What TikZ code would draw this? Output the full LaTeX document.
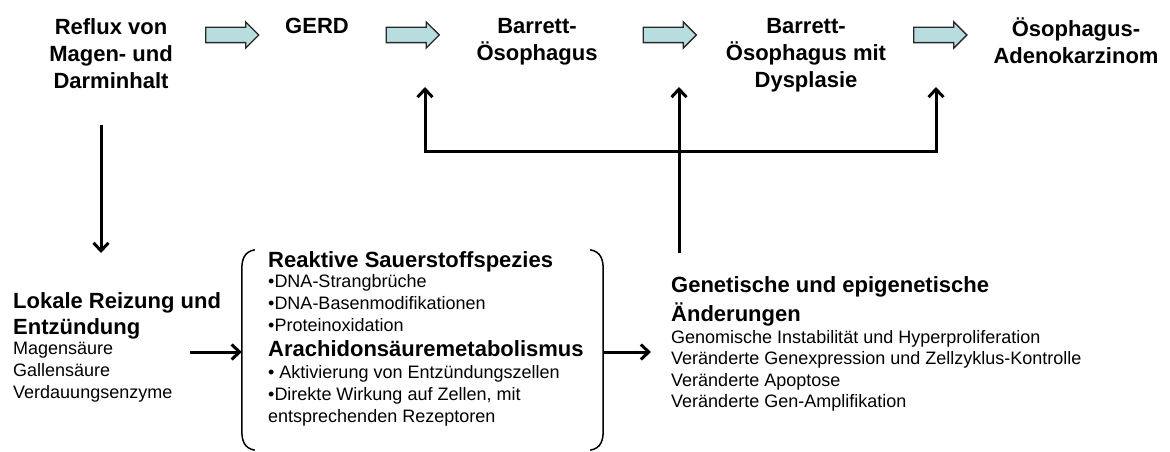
\documentclass[tikz,border=0pt]{standalone}
\usepackage{fontspec}
\setmainfont{Liberation Sans}
\usetikzlibrary{shapes.arrows,arrows.meta}
\definecolor{arrowfill}{RGB}{183,221,222}
\definecolor{arrowedge}{RGB}{40,40,40}
\tikzset{
  x=1pt,y=-1pt,
  toplabel/.style={align=center,anchor=north,inner sep=0pt,
    font=\fontsize{22}{27}\selectfont\bfseries},
  blockarrow/.style={single arrow,draw=arrowedge,fill=arrowfill,line width=1.3pt,
    minimum height=53pt,inner xsep=0pt,inner ysep=7pt,single arrow head extend=5.5pt,
    anchor=center},
  blackarrow/.style={line width=3pt,-{Straight Barb[length=8pt,width=15pt,line width=3pt]}},
  blackline/.style={line width=3pt},
  bracket/.style={line width=1.5pt},
  textblock/.style={align=left,anchor=north west,inner sep=0pt,
    font=\fontsize{18}{22}\selectfont},
}
\newcommand{\hd}[1]{{\fontsize{22}{26}\selectfont\bfseries #1}}
\begin{document}
\begin{tikzpicture}
\useasboundingbox (0,0) rectangle (1170,452);
% top row
\node[toplabel] (reflux) at (111,18) {Reflux von\\Magen- und\\Darminhalt};
\node[toplabel] (gerd) at (317,18) {GERD};
\node[toplabel] (barrett) at (537,18) {Barrett-\\Ösophagus};
\node[toplabel] (dys) at (806,18) {Barrett-\\Ösophagus mit\\Dysplasie};
\node[toplabel] (adeno) at (1076,18) {Ösophagus-\\Adenokarzinom};
\node[blockarrow] (a1) at (228.5,35) {};
\node[blockarrow] (a2) at (409,35) {};
\node[blockarrow] (a3) at (666,35) {};
\node[blockarrow] (a4) at (936.5,35) {};
% lower blocks
\node[textblock] (lokal) at (13,292) {\hd{Lokale Reizung und}\\[4pt]\hd{Entzündung}\\[-1.5pt]Magensäure\\Gallensäure\\Verdauungsenzyme};
\node[inner sep=0pt,minimum width=361pt,minimum height=200pt] (box) at (422.5,350) {};
\node[textblock] (boxtext) at (268,251) {\hd{Reaktive Sauerstoffspezies}\\[-1.5pt]•DNA-Strangbrüche\\•DNA-Basenmodifikationen\\•Proteinoxidation\\[2.5pt]\hd{Arachidonsäuremetabolismus}\\[0.5pt]• Aktivierung von Entzündungszellen\\•Direkte Wirkung auf Zellen, mit\\entsprechenden Rezeptoren};
\node[textblock,font=\fontsize{18}{21.5}\selectfont] (genetic) at (671,276) {\hd{Genetische und epigenetische}\\[4.5pt]\hd{Änderungen}\\[0.5pt]Genomische Instabilität und Hyperproliferation\\Veränderte Genexpression und Zellzyklus-Kontrolle\\Veränderte Apoptose\\Veränderte Gen-Amplifikation};
% brackets
\draw[bracket] ([xshift=13pt]box.north west) .. controls ([xshift=2pt,yshift=-2pt]box.north west) and ([yshift=-10pt]box.north west) .. ([yshift=-20pt]box.north west)
  -- ([yshift=20pt]box.south west) .. controls ([yshift=10pt]box.south west) and ([xshift=2pt,yshift=2pt]box.south west) .. ([xshift=13pt]box.south west);
\draw[bracket] ([xshift=-13pt]box.north east) .. controls ([xshift=-2pt,yshift=-2pt]box.north east) and ([yshift=-10pt]box.north east) .. ([yshift=-20pt]box.north east)
  -- ([yshift=20pt]box.south east) .. controls ([yshift=10pt]box.south east) and ([xshift=-2pt,yshift=2pt]box.south east) .. ([xshift=-13pt]box.south east);
% connectors
\coordinate (t1) at (425,87);
\coordinate (t2) at (679,87);
\coordinate (t3) at (936,87);
\coordinate (j1) at (425,151);
\coordinate (j3) at (936,151);
\coordinate (g) at (679,253);
\coordinate (d0) at (101,125);
\coordinate (d1) at (101,253);
\coordinate (l0) at (190,352);
\draw[blackarrow] (d0) -- (d1);
\draw[blackarrow] (l0) -- (box.west |- l0);
\draw[blackarrow] (box.east |- l0) -- ([xshift=-20pt]genetic.west |- l0);
\draw[blackarrow] (g) -- (t2);
\draw[blackline] ([xshift=-1.5pt]j1) -- ([xshift=1.5pt]j3);
\draw[blackarrow] ([yshift=1.5pt]j1) -- (t1);
\draw[blackarrow] ([yshift=1.5pt]j3) -- (t3);
\end{tikzpicture}
\end{document}
